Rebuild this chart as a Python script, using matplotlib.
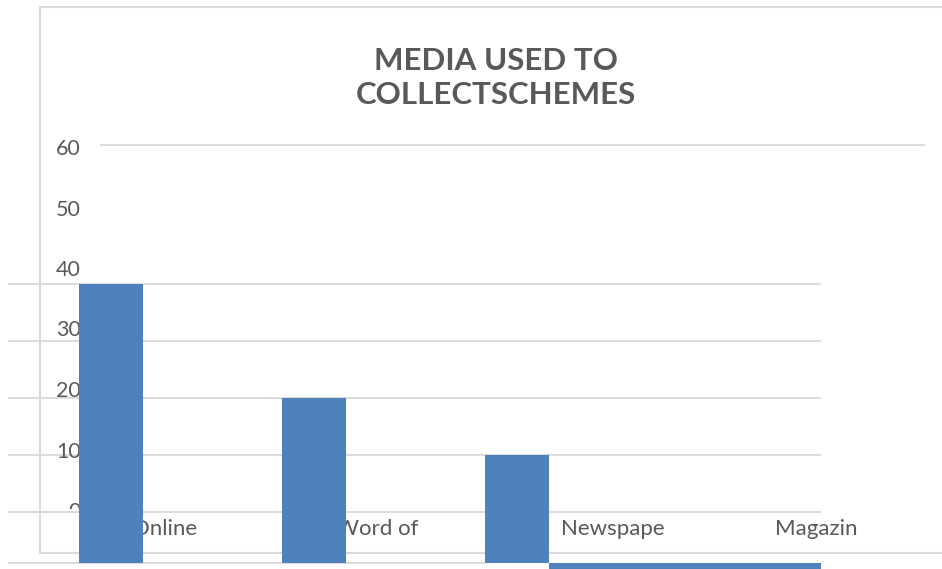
import matplotlib.pyplot as plt
from matplotlib.patches import Rectangle

categories = ["Online", "Word of", "Newspape", "Magazin"]
values = [40, 20, 10, 0]
ytick_values = [60, 50, 40, 30, 20, 10, 0]
grid_values = [0, 10, 20, 30, 40]
title = "MEDIA USED TO\nCOLLECTSCHEMES"

BLUE = "#4f81bd"
GRID = "#d9d9d9"
TEXT = "#595959"
FONT = "Lato"

W, H = 942, 569

# pixel <-> data helpers (one category step = 203 px, 10 units = 57 px)
X0, DX = 111, 203.0
Y0, DY = 512, 5.7


def px2x(px):
    return (px - X0) / DX


def px2y(py):
    return (Y0 - py) / DY


fig = plt.figure(figsize=(W / 100, H / 100), dpi=100)
ax = fig.add_axes([0, 0, 1, 1])
ax.set_xlim(px2x(0), px2x(W))
ax.set_ylim(px2y(H), px2y(0))
ax.axis("off")

# outer chart frame
ax.plot([px2x(40), px2x(40)], [px2y(553), px2y(7)], color=GRID, lw=1.5, zorder=1)
ax.plot([px2x(40), px2x(W)], [px2y(7), px2y(7)], color=GRID, lw=1.5, zorder=1)
ax.plot([px2x(40), px2x(W)], [px2y(553), px2y(553)], color=GRID, lw=1.5, zorder=1)

# gridlines
base = px2y(563)
ax.hlines(grid_values, px2x(8), px2x(821), color=GRID, lw=1.3, zorder=1)
ax.hlines(base, px2x(8), px2x(485), color=GRID, lw=1.3, zorder=1)
ax.hlines(px2y(144.5), px2x(100), px2x(925), color=GRID, lw=1.3, zorder=1)

# y tick labels, sitting behind the bars
for v in ytick_values:
    ty = px2y(149 + (60 - v) * 6.05)
    t = ax.text(px2x(81), ty, str(v), ha="right", va="center", fontsize=15.5,
                color=TEXT, family=FONT, zorder=2)
    if v == 0:
        clip = Rectangle((px2x(0), px2y(509)), px2x(W) - px2x(0), 50,
                         transform=ax.transData)
        t.set_clip_on(True)
        t.set_clip_path(clip)

# category labels
label_right = [197, 418, 665, 858]
for name, r in zip(categories, label_right):
    ax.text(px2x(r), px2y(529), name, ha="right", va="center", fontsize=16,
            color=TEXT, family=FONT, zorder=2)

# bars
bw = 64 / DX
for i, v in enumerate(values[:3]):
    ax.bar(i, v - base, bottom=base, width=bw, color=BLUE, zorder=3)
# last category ends up as a flat strip below the baseline
ax.bar(px2x(549), values[3] + px2y(H + 5) - base, bottom=base,
       width=px2x(821) - px2x(549), align="edge", color=BLUE, zorder=3)

ax.text(px2x(496), px2y(78), title, ha="center", va="center", fontsize=22.5,
        fontweight="bold", color=TEXT, family=FONT, linespacing=1.3, zorder=2)

fig.savefig("out.png", dpi=100)
